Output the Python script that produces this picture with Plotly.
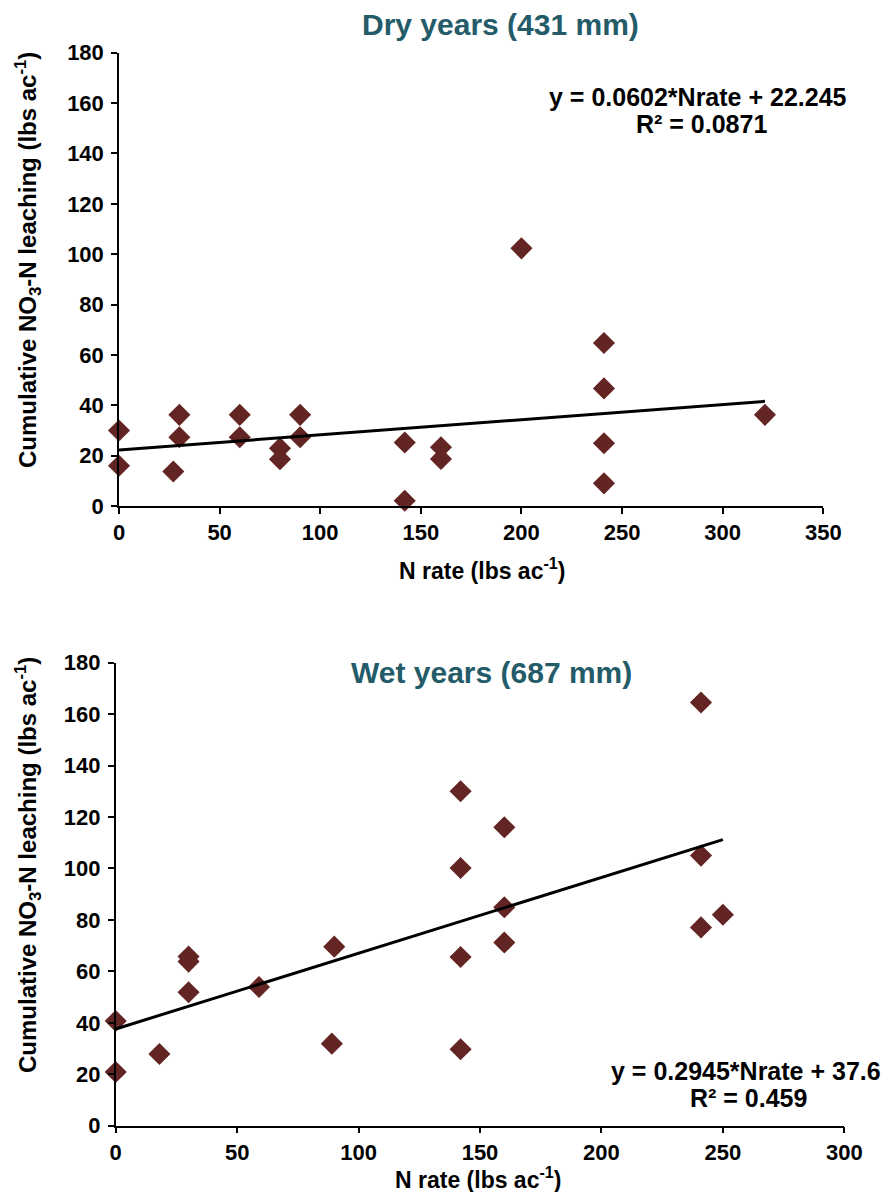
import plotly.graph_objects as go

# ---- Data ----
dry_nrate = [0, 0, 27, 30, 30, 60, 60, 80, 80, 90, 90, 142, 142, 160, 160, 200, 241, 241, 241, 241, 321]
dry_leach = [30, 16, 13.7, 36.2, 27.3, 36.2, 27.3, 22.9, 18.6, 36.2, 27.3, 25.2, 2.1, 23.3, 18.7, 102.3, 64.7, 46.7, 24.9, 9.0, 36.2]
dry_fit_x = [0, 321]
dry_slope, dry_intercept = 0.0602, 22.245

wet_nrate = [0, 0, 18, 30, 30, 30, 59, 90, 89, 142, 142, 142, 142, 160, 160, 160, 241, 241, 241, 250]
wet_leach = [20.9, 40.7, 27.9, 65.8, 63.8, 51.9, 53.9, 69.6, 31.9, 130.0, 100.2, 65.6, 29.7, 116.0, 84.9, 71.2, 164.5, 105.0, 77.1, 82.0]
wet_fit_x = [0, 250]
wet_slope, wet_intercept = 0.2945, 37.6

y_ticks = [0, 20, 40, 60, 80, 100, 120, 140, 160, 180]
dry_x_ticks = [0, 50, 100, 150, 200, 250, 300, 350]
wet_x_ticks = [0, 50, 100, 150, 200, 250, 300]

W, H = 891, 1192
OFF = 8  # page body margin offset
MARKER = "#632523"
TEAL = "#245B69"
FONT = "Liberation Sans, Arial, sans-serif"

def px_x(p):
    return (p - OFF) / W

def px_y(p):
    return 1 - (p - OFF) / H

fig = go.Figure()

fig.add_trace(go.Scatter(x=dry_nrate, y=dry_leach, mode="markers", xaxis="x", yaxis="y",
                         marker=dict(symbol="diamond", size=17, color=MARKER, line=dict(width=0)),
                         cliponaxis=False, showlegend=False))
fig.add_trace(go.Scatter(x=dry_fit_x, y=[dry_slope * v + dry_intercept for v in dry_fit_x],
                         mode="lines", xaxis="x", yaxis="y",
                         line=dict(color="black", width=3), showlegend=False))
fig.add_trace(go.Scatter(x=wet_nrate, y=wet_leach, mode="markers", xaxis="x2", yaxis="y2",
                         marker=dict(symbol="diamond", size=17, color=MARKER, line=dict(width=0)),
                         cliponaxis=False, showlegend=False))
fig.add_trace(go.Scatter(x=wet_fit_x, y=[wet_slope * v + wet_intercept for v in wet_fit_x],
                         mode="lines", xaxis="x2", yaxis="y2",
                         line=dict(color="black", width=3), showlegend=False))

tickfont = dict(family=FONT, size=22, color="black", weight="bold")
axcommon = dict(showgrid=False, zeroline=False, showline=True, linecolor="black", linewidth=1.5,
                ticks="outside", ticklen=6, tickwidth=1.5, tickcolor="black", tickfont=tickfont,
                automargin=False)

fig.update_layout(
    width=W, height=H,
    margin=dict(l=0, r=0, t=0, b=0),
    paper_bgcolor="white", plot_bgcolor="white",
    xaxis=dict(domain=[px_x(119), px_x(823.3)], range=[0, 350], tickvals=dry_x_ticks,
               anchor="y", **axcommon),
    yaxis=dict(domain=[px_y(506), px_y(52.7)], range=[0, 180], tickvals=y_ticks,
               anchor="x", ticklabelstandoff=3, **axcommon),
    xaxis2=dict(domain=[px_x(115.7), px_x(844.3)], range=[0, 300], tickvals=wet_x_ticks,
                anchor="y2", **axcommon),
    yaxis2=dict(domain=[px_y(1125.7), px_y(662.7)], range=[0, 180], tickvals=y_ticks,
                anchor="x2", ticklabelstandoff=3, **axcommon),
)

def ann(text, x, y, size, color="black", angle=0):
    fig.add_annotation(text=text, x=px_x(x), y=px_y(y), xref="paper", yref="paper",
                       xanchor="center", yanchor="middle", showarrow=False, textangle=angle,
                       font=dict(family=FONT, size=size, color=color, weight="bold"))

ytitle = "Cumulative NO<sub>3</sub>-N leaching (lbs ac<sup>-1</sup>)"
xtitle = "N rate (lbs ac<sup>-1</sup>)"

ann("Dry years (431 mm)", 500, 25, 30, TEAL)
ann("Wet years (687 mm)", 491, 672, 30, TEAL)
ann(ytitle, 28, 260, 24, angle=-90)
ann(ytitle, 28, 865, 24, angle=-90)
ann(xtitle, 482, 569, 23)
ann(xtitle, 478, 1178, 23)
ann("y = 0.0602*Nrate + 22.245", 698, 97, 25)
ann("R² = 0.0871", 701, 124, 25)
ann("y = 0.2945*Nrate + 37.6", 746, 1071, 25)
ann("R² = 0.459", 748, 1098, 25)

fig.write_html("out.html")
